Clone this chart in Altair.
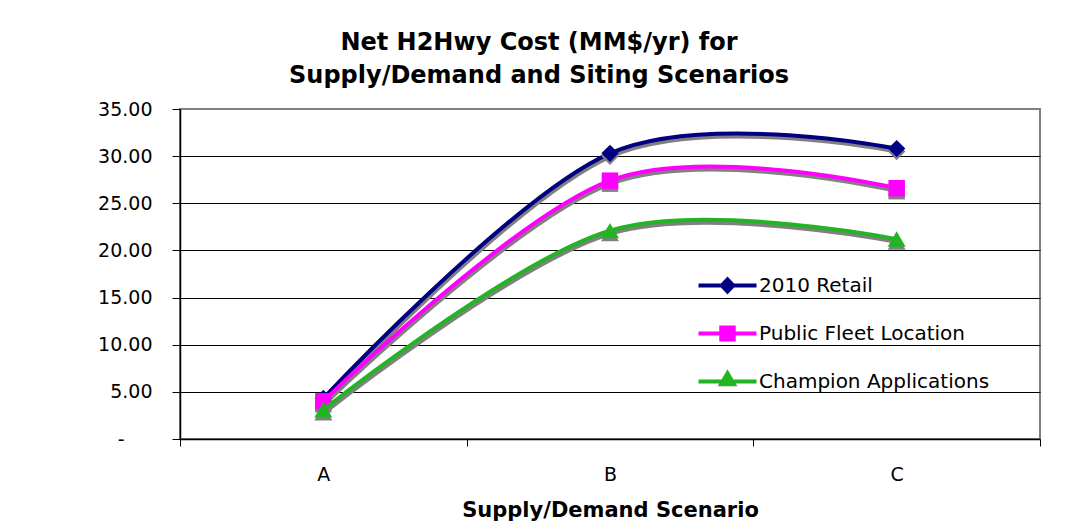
import altair as alt
import pandas as pd

# ---- data ----
scenarios = ["A", "B", "C"]
series_names = ["2010 Retail", "Public Fleet Location", "Champion Applications"]
retail = [4.3, 30.3, 30.8]
public_fleet = [4.0, 27.4, 26.6]
champion = [3.1, 22.1, 21.2]
y_ticks = [0, 5, 10, 15, 20, 25, 30, 35]

values = {
    "2010 Retail": retail,
    "Public Fleet Location": public_fleet,
    "Champion Applications": champion,
}
rows = []
for s in series_names:
    for sc, v in zip(scenarios, values[s]):
        rows.append({"series": s, "scenario": sc, "value": v})
df = pd.DataFrame(rows)

colors = {"2010 Retail": "#000080", "Public Fleet Location": "#FF00FF",
          "Champion Applications": "#22B422"}
shapes = {"2010 Retail": "diamond", "Public Fleet Location": "square",
          "Champion Applications": "triangle-up"}
sizes = {"2010 Retail": 300, "Public Fleet Location": 270,
         "Champion Applications": 320}
SHADOW = "#808080"
FONT = "DejaVu Sans"

W, H = 860, 330

zero_label = "-" + "\u2800" * 2

x_enc = alt.X(
    "scenario:N",
    scale=alt.Scale(type="band", domain=scenarios, paddingInner=0, paddingOuter=0),
    axis=alt.Axis(
        title="Supply/Demand Scenario", labelAngle=0, tickBand="extent",
        tickSize=7, tickColor="#000000", domainColor="#000000", domainWidth=1.5,
        labelFont=FONT, labelFontSize=19, labelColor="#000000", labelPadding=19,
        titleFont=FONT, titleFontSize=21, titleFontWeight="bold", titleColor="#000000",
        titlePadding=15, grid=False,
    ),
)
y_enc = alt.Y(
    "value:Q",
    scale=alt.Scale(domain=[0, 35], nice=False, zero=True),
    axis=alt.Axis(
        title=None, values=y_ticks,
        labelExpr="datum.value == 0 ? '" + zero_label + "' : format(datum.value, '.2f')",
        tickSize=8, tickColor="#000000", domainColor="#000000", domainWidth=1.5,
        labelFont=FONT, labelFontSize=19, labelColor="#000000", labelPadding=20,
        grid=True,
        gridColor=alt.condition("datum.value == 35 || datum.value == 0",
                                alt.value("transparent"), alt.value("#000000")),
        gridWidth=1,
    ),
)

layers = []
for s in series_names:
    d = df[df["series"] == s]
    base = alt.Chart(d).encode(x=x_enc, y=y_enc)
    layers.append(base.mark_line(interpolate="cardinal", color=SHADOW, strokeWidth=4,
                                 xOffset=1, yOffset=3))
    layers.append(base.mark_line(interpolate="cardinal", color=colors[s], strokeWidth=4))
    layers.append(base.mark_point(shape=shapes[s], filled=True, opacity=1, color=SHADOW,
                                  size=sizes[s], strokeWidth=0, xOffset=0, yOffset=3))
    layers.append(base.mark_point(shape=shapes[s], filled=True, opacity=1, color=colors[s],
                                  size=sizes[s], strokeWidth=0))

# legend layer: symbols made of a line segment plus the marker
bar = "M-1.234,-0.085H1.234V0.085H-1.234Z"
legend_paths = [
    bar + "M0,-0.38L0.36,0L0,0.38L-0.36,0Z",
    bar + "M-0.35,-0.34H0.35V0.34H-0.35Z",
    bar + "M0,-0.52L0.42,0.2L-0.42,0.2Z",
]
legend_layer = alt.Chart(df).transform_filter("false").mark_point(
    filled=True, opacity=1, strokeWidth=0
).encode(
    x=x_enc, y=y_enc,
    fill=alt.Fill("series:N", scale=alt.Scale(domain=series_names,
                  range=[colors[s] for s in series_names]),
                  legend=alt.Legend(title=None, orient="none", legendX=524, legendY=153,
                                    symbolSize=2209, symbolStrokeWidth=0, symbolOpacity=1,
                                    labelFont=FONT, labelFontSize=20, labelColor="#000000",
                                    labelOffset=8, labelLimit=500, rowPadding=14,
                                    padding=0)),
    shape=alt.Shape("series:N", scale=alt.Scale(domain=series_names, range=legend_paths)),
)
layers.append(legend_layer)

chart = alt.layer(*layers).properties(
    width=W, height=H,
    title=alt.Title(
        ["Net H2Hwy Cost (MM$/yr) for", "Supply/Demand and Siting Scenarios"],
        font=FONT, fontSize=24, fontWeight="bold", color="#000000",
        anchor="middle", frame="group", dx=-71, offset=12, lineHeight=33,
    ),
    autosize=alt.AutoSizeParams(type="none"),
    padding={"left": 172, "top": 101, "right": 20, "bottom": 82},
    background="white",
).configure_view(stroke=SHADOW, strokeWidth=2)

chart.save("out.html", embed_options={"renderer": "svg", "actions": False})
